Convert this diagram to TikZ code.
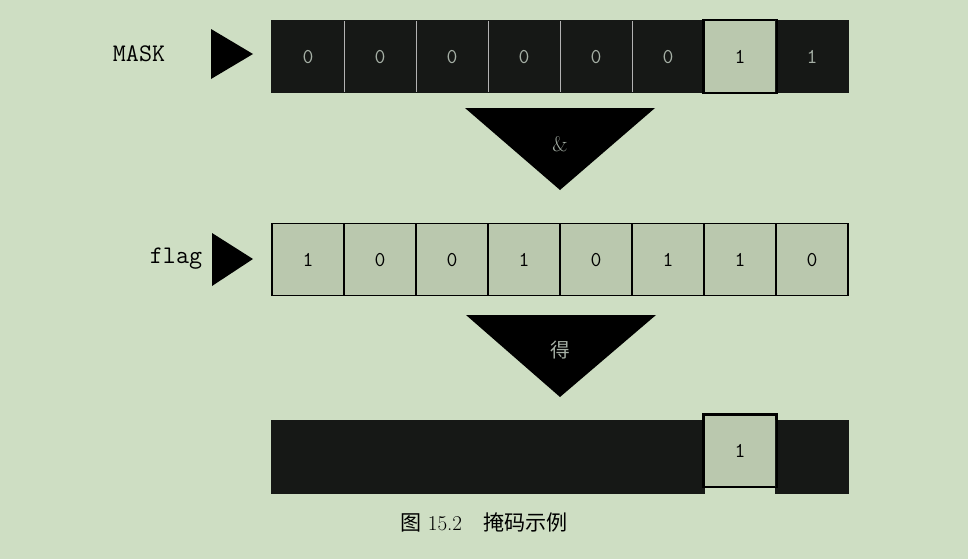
\documentclass[tikz,border=0pt]{standalone}
\usepackage{fontspec}
\newfontfamily\cjk{Noto Sans CJK SC}
\usepackage{tikz}
\usetikzlibrary{matrix}

\definecolor{paper}{RGB}{206,222,195}
\definecolor{litecell}{RGB}{186,200,174}
\definecolor{darkcell}{RGB}{22,24,22}
\definecolor{dimtext}{RGB}{165,175,165}

\tikzset{
	lite/.style={fill=litecell, draw=black, text=black},
	dark/.style={fill=darkcell, draw=darkcell, text=dimtext},
	blank/.style={fill=darkcell, draw=darkcell},
	tag/.style={font=\fontsize{18}{20}\selectfont\ttfamily},
	pointer/.style={fill=black},
}

\begin{document}
\begin{tikzpicture}[x=0.025cm, y=-0.025cm]
	\fill[paper] (0,0) rectangle (968,559);
	\useasboundingbox (0,0) rectangle (968,559);
	
	\tikzset{bits/.style={matrix of nodes, ampersand replacement=\&,
		nodes in empty cells, column sep=-1.2pt,
		nodes={minimum width=1.8cm, minimum height=1.8cm, inner sep=0pt,
			line width=1.2pt, font=\fontsize{15}{17}\selectfont\ttfamily}}}
	
	% mask row
	\matrix(mask)[bits] at (560,56.5)
	{
		|[dark]| 0 \& |[dark]| 0 \& |[dark]| 0 \& |[dark]| 0 \& |[dark]| 0 \& |[dark]| 0 \& |[lite]| 1 \& |[dark]| 1\\
	};
	
	% flag row
	\matrix(flag)[bits] at (560,259.5)
	{
		|[lite]| 1 \& |[lite]| 0 \& |[lite]| 0 \& |[lite]| 1 \& |[lite]| 0 \& |[lite]| 1 \& |[lite]| 1 \& |[lite]| 0\\
	};
	
	% result row
	\matrix(result)[bits] at (560,454)
	{
		|[blank]| \& |[blank]| \& |[blank]| \& |[blank]| \& |[blank]| \& |[blank]| \& |[lite]| 1 \& |[blank]| \\
	};
	
	% thin light seams between the dark mask cells
	\foreach \i in {1,...,5}
		\draw[gray!60, line width=0.7pt] ([yshift=-1pt]mask-1-\i.north east) -- ([yshift=1pt]mask-1-\i.south east);
	
	% borders of the light cells again on top
	\foreach \cell in {mask-1-7, result-1-7}
		\draw[line width=1.2pt] (\cell.north west) rectangle (\cell.south east);
	
	% labels and pointers
	\node[tag] (masklabel) at (139,54) {MASK};
	\node[tag] (flaglabel) at (176,259) {flag};
	\fill[pointer] (211,29) -- (253,54) -- (211,79) -- cycle;
	\fill[pointer] (212,233) -- (253,259) -- (212,286) -- cycle;
	
	% operators
	\fill[pointer] (465,108) -- (655,108) -- (560,190) -- cycle;
	\node[text=dimtext, font=\fontsize{15}{17}\selectfont] (andop) at (560,144) {\&};
	\fill[pointer] (466,315) -- (656,315) -- (560,397) -- cycle;
	\node[text=dimtext, font=\fontsize{14}{16}\selectfont\cjk] (gives) at (560,350) {得};
	
	\node[font=\fontsize{15}{18}\selectfont] (caption) at (484,522) {{\cjk 图} 15.2\quad{\cjk 掩码示例}};
\end{tikzpicture}
\end{document}
